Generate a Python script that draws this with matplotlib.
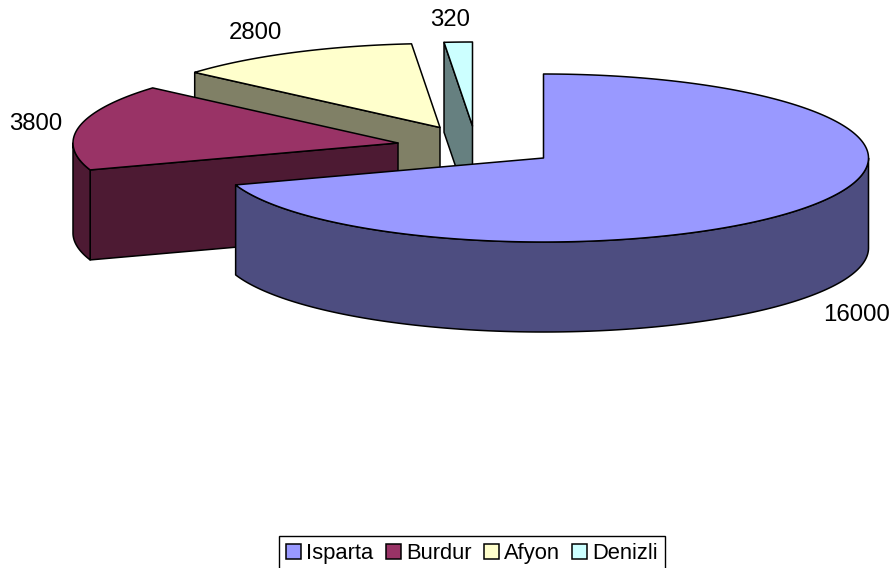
import numpy as np
import matplotlib
matplotlib.use("Agg")
import matplotlib.pyplot as plt
from matplotlib.patches import Patch

plt.rcParams["font.family"] = ["Liberation Sans", "DejaVu Sans"]

# data
names = ["Isparta", "Burdur", "Afyon", "Denizli"]
values = [16000, 3800, 2800, 320]

# colours
top_colors = ["#9999FF", "#993366", "#FFFFCC", "#CCFFFF"]
side_colors = ["#4D4D80", "#4D1A33", "#808066", "#668080"]

# layout, in pixels of the 892x568 picture
apex = [(543.5, 158), (398, 143), (440, 127.5), (472.5, 126)]
label_pos = [(856.5, 315), (35.5, 124), (255.5, 33), (450.5, 20.5)]
RX, RY, DEPTH = 325, 84, 90
LW = 1.1


def arc(c, a0, a1, dy=0):
    """points on the rim, angles clockwise from 12 o'clock"""
    t = np.radians(np.linspace(a0, a1, max(int(abs(a1 - a0)) * 2, 8)))
    return np.column_stack([c[0] + RX * np.sin(t), c[1] - RY * np.cos(t) + dy])


def face(ax, pts, color):
    ax.fill(pts[:, 0], pts[:, 1], facecolor=color, edgecolor="black",
            linewidth=LW, joinstyle="round")


def radial_face(ax, c, ang, color):
    t = np.radians(ang)
    rim = (c[0] + RX * np.sin(t), c[1] - RY * np.cos(t))
    pts = np.array([c, rim, (rim[0], rim[1] + DEPTH), (c[0], c[1] + DEPTH)])
    face(ax, pts, color)


fig = plt.figure(figsize=(8.92, 5.68), dpi=100)
ax = fig.add_axes([0, 0, 1, 1])
ax.set_xlim(0, 892)
ax.set_ylim(568, 0)
ax.axis("off")

angles = np.concatenate([[0], np.cumsum(values) / np.sum(values) * 360])

# back slices first, Isparta goes on top of everything
for i in [3, 2, 1, 0]:
    a0, a1 = angles[i], angles[i + 1]
    c = apex[i]
    if np.sin(np.radians(a0)) < -1e-6:
        radial_face(ax, c, a0, side_colors[i])
    s0, s1 = max(a0, 90), min(a1, 270)
    if s1 > s0:
        upper = arc(c, s0, s1)
        lower = arc(c, s1, s0, DEPTH)
        face(ax, np.vstack([upper, lower]), side_colors[i])
    face(ax, np.vstack([[c], arc(c, a0, a1)]), top_colors[i])

for v, (x, y) in zip(values, label_pos):
    ax.text(x, y, str(v), fontsize=17.3, color="black", ha="center", va="center")

handles = [Patch(facecolor=col, edgecolor="black", linewidth=LW) for col in top_colors]
ax.legend(handles, names, loc="lower center", bbox_to_anchor=(472, 568 + 3),
          bbox_transform=ax.transData, ncol=4, fontsize=15.8, frameon=True,
          fancybox=False, framealpha=1, edgecolor="black", handlelength=0.68,
          handleheight=0.68, handletextpad=0.25, columnspacing=0.55,
          borderpad=0.32, borderaxespad=0)

fig.savefig("out.png", dpi=100)
